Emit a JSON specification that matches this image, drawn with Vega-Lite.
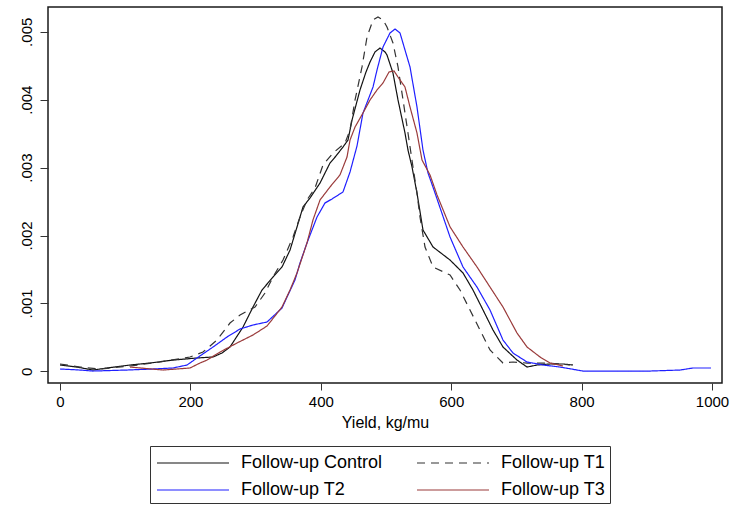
{
  "$schema": "https://vega.github.io/schema/vega-lite/v6.json",
  "width": 674,
  "height": 376,
  "autosize": {"type": "none"},
  "padding": {"left": 48, "top": 7, "right": 13, "bottom": 123},
  "background": "white",
  "config": {
    "view": {"stroke": "#1a1a1a", "strokeWidth": 1.5},
    "font": "Liberation Sans",
    "axis": {"grid": false, "domain": false, "tickColor": "#333", "labelColor": "#000", "labelFont": "Liberation Sans", "titleFont": "Liberation Sans", "titleFontWeight": "normal", "titleColor": "#000"},
    "legend": {"labelFont": "Liberation Sans", "labelColor": "#000"}
  },
  "data": {"values": [
    {"s": "Follow-up Control", "x": 0, "y": 0.000093},
    {"s": "Follow-up Control", "x": 26, "y": 0.000063},
    {"s": "Follow-up Control", "x": 50.6, "y": 0.000019},
    {"s": "Follow-up Control", "x": 72.1, "y": 0.000049},
    {"s": "Follow-up Control", "x": 107.4, "y": 0.000093},
    {"s": "Follow-up Control", "x": 138, "y": 0.000122},
    {"s": "Follow-up Control", "x": 173.3, "y": 0.000166},
    {"s": "Follow-up Control", "x": 210.1, "y": 0.000196},
    {"s": "Follow-up Control", "x": 234.7, "y": 0.000211},
    {"s": "Follow-up Control", "x": 248.5, "y": 0.00027},
    {"s": "Follow-up Control", "x": 260.7, "y": 0.000358},
    {"s": "Follow-up Control", "x": 280.7, "y": 0.000652},
    {"s": "Follow-up Control", "x": 296, "y": 0.000947},
    {"s": "Follow-up Control", "x": 309.8, "y": 0.001197},
    {"s": "Follow-up Control", "x": 326.7, "y": 0.001389},
    {"s": "Follow-up Control", "x": 340.5, "y": 0.001536},
    {"s": "Follow-up Control", "x": 352.8, "y": 0.001786},
    {"s": "Follow-up Control", "x": 363.5, "y": 0.002125},
    {"s": "Follow-up Control", "x": 372.7, "y": 0.00242},
    {"s": "Follow-up Control", "x": 383.4, "y": 0.002552},
    {"s": "Follow-up Control", "x": 398.8, "y": 0.002773},
    {"s": "Follow-up Control", "x": 414.1, "y": 0.003068},
    {"s": "Follow-up Control", "x": 423.3, "y": 0.003171},
    {"s": "Follow-up Control", "x": 434, "y": 0.003303},
    {"s": "Follow-up Control", "x": 441.7, "y": 0.003406},
    {"s": "Follow-up Control", "x": 447.9, "y": 0.003701},
    {"s": "Follow-up Control", "x": 460.1, "y": 0.004143},
    {"s": "Follow-up Control", "x": 469.3, "y": 0.004408},
    {"s": "Follow-up Control", "x": 475.5, "y": 0.004555},
    {"s": "Follow-up Control", "x": 483.1, "y": 0.004703},
    {"s": "Follow-up Control", "x": 490.8, "y": 0.004761},
    {"s": "Follow-up Control", "x": 498.5, "y": 0.004703},
    {"s": "Follow-up Control", "x": 501.5, "y": 0.004658},
    {"s": "Follow-up Control", "x": 510.7, "y": 0.004393},
    {"s": "Follow-up Control", "x": 518.4, "y": 0.003996},
    {"s": "Follow-up Control", "x": 529.1, "y": 0.00351},
    {"s": "Follow-up Control", "x": 533.7, "y": 0.003259},
    {"s": "Follow-up Control", "x": 539.9, "y": 0.003009},
    {"s": "Follow-up Control", "x": 547.5, "y": 0.002626},
    {"s": "Follow-up Control", "x": 556.7, "y": 0.002081},
    {"s": "Follow-up Control", "x": 572.1, "y": 0.001831},
    {"s": "Follow-up Control", "x": 598.2, "y": 0.001639},
    {"s": "Follow-up Control", "x": 618.1, "y": 0.001448},
    {"s": "Follow-up Control", "x": 633.4, "y": 0.001197},
    {"s": "Follow-up Control", "x": 648.8, "y": 0.000903},
    {"s": "Follow-up Control", "x": 664.1, "y": 0.000608},
    {"s": "Follow-up Control", "x": 679.4, "y": 0.000358},
    {"s": "Follow-up Control", "x": 700.9, "y": 0.000166},
    {"s": "Follow-up Control", "x": 716.3, "y": 0.000063},
    {"s": "Follow-up Control", "x": 731.6, "y": 0.000093},
    {"s": "Follow-up Control", "x": 751.5, "y": 0.000108},
    {"s": "Follow-up Control", "x": 771.5, "y": 0.000108},
    {"s": "Follow-up Control", "x": 786.8, "y": 0.000093},

    {"s": "Follow-up T1", "x": 0, "y": 0.000108},
    {"s": "Follow-up T1", "x": 30.7, "y": 0.000063},
    {"s": "Follow-up T1", "x": 61.3, "y": 0.000034},
    {"s": "Follow-up T1", "x": 107.4, "y": 0.000078},
    {"s": "Follow-up T1", "x": 153.4, "y": 0.000137},
    {"s": "Follow-up T1", "x": 199.4, "y": 0.000211},
    {"s": "Follow-up T1", "x": 219.3, "y": 0.000284},
    {"s": "Follow-up T1", "x": 240.8, "y": 0.000461},
    {"s": "Follow-up T1", "x": 260.7, "y": 0.000711},
    {"s": "Follow-up T1", "x": 276.1, "y": 0.000829},
    {"s": "Follow-up T1", "x": 299.1, "y": 0.000947},
    {"s": "Follow-up T1", "x": 314.4, "y": 0.001153},
    {"s": "Follow-up T1", "x": 326.7, "y": 0.001389},
    {"s": "Follow-up T1", "x": 342, "y": 0.001639},
    {"s": "Follow-up T1", "x": 357.4, "y": 0.001978},
    {"s": "Follow-up T1", "x": 368.1, "y": 0.002272},
    {"s": "Follow-up T1", "x": 378.8, "y": 0.002523},
    {"s": "Follow-up T1", "x": 391.1, "y": 0.0027},
    {"s": "Follow-up T1", "x": 403.4, "y": 0.00304},
    {"s": "Follow-up T1", "x": 418.7, "y": 0.003215},
    {"s": "Follow-up T1", "x": 437.1, "y": 0.003362},
    {"s": "Follow-up T1", "x": 444.8, "y": 0.003554},
    {"s": "Follow-up T1", "x": 452.5, "y": 0.003996},
    {"s": "Follow-up T1", "x": 463.2, "y": 0.004482},
    {"s": "Follow-up T1", "x": 470.9, "y": 0.004924},
    {"s": "Follow-up T1", "x": 480.1, "y": 0.005174},
    {"s": "Follow-up T1", "x": 487.7, "y": 0.005218},
    {"s": "Follow-up T1", "x": 495.4, "y": 0.005174},
    {"s": "Follow-up T1", "x": 501.5, "y": 0.005071},
    {"s": "Follow-up T1", "x": 510.7, "y": 0.004835},
    {"s": "Follow-up T1", "x": 518.4, "y": 0.004482},
    {"s": "Follow-up T1", "x": 526.1, "y": 0.003996},
    {"s": "Follow-up T1", "x": 533.7, "y": 0.00351},
    {"s": "Follow-up T1", "x": 541.4, "y": 0.003009},
    {"s": "Follow-up T1", "x": 547.5, "y": 0.002626},
    {"s": "Follow-up T1", "x": 552.1, "y": 0.002272},
    {"s": "Follow-up T1", "x": 559.8, "y": 0.001831},
    {"s": "Follow-up T1", "x": 572.1, "y": 0.001536},
    {"s": "Follow-up T1", "x": 598.2, "y": 0.001418},
    {"s": "Follow-up T1", "x": 613.5, "y": 0.001197},
    {"s": "Follow-up T1", "x": 628.8, "y": 0.000903},
    {"s": "Follow-up T1", "x": 644.2, "y": 0.000608},
    {"s": "Follow-up T1", "x": 659.5, "y": 0.000314},
    {"s": "Follow-up T1", "x": 679.4, "y": 0.000122},
    {"s": "Follow-up T1", "x": 694.8, "y": 0.000137},
    {"s": "Follow-up T1", "x": 716.3, "y": 0.000122},
    {"s": "Follow-up T1", "x": 741.1, "y": 0.000122},
    {"s": "Follow-up T1", "x": 766.9, "y": 0.000108},
    {"s": "Follow-up T1", "x": 782.2, "y": 0.000093},

    {"s": "Follow-up T2", "x": 0, "y": 0.000034},
    {"s": "Follow-up T2", "x": 30.7, "y": 0.000019},
    {"s": "Follow-up T2", "x": 50.6, "y": 0.000004},
    {"s": "Follow-up T2", "x": 102.8, "y": 0.000019},
    {"s": "Follow-up T2", "x": 142.6, "y": 0.000034},
    {"s": "Follow-up T2", "x": 173.3, "y": 0.000049},
    {"s": "Follow-up T2", "x": 194.8, "y": 0.000093},
    {"s": "Follow-up T2", "x": 210.1, "y": 0.000196},
    {"s": "Follow-up T2", "x": 234.7, "y": 0.000358},
    {"s": "Follow-up T2", "x": 256.1, "y": 0.000505},
    {"s": "Follow-up T2", "x": 276.1, "y": 0.000623},
    {"s": "Follow-up T2", "x": 296, "y": 0.000682},
    {"s": "Follow-up T2", "x": 317.5, "y": 0.000726},
    {"s": "Follow-up T2", "x": 340.5, "y": 0.000932},
    {"s": "Follow-up T2", "x": 348.2, "y": 0.001094},
    {"s": "Follow-up T2", "x": 360.4, "y": 0.001345},
    {"s": "Follow-up T2", "x": 368.1, "y": 0.001595},
    {"s": "Follow-up T2", "x": 378.8, "y": 0.00189},
    {"s": "Follow-up T2", "x": 394.2, "y": 0.002273},
    {"s": "Follow-up T2", "x": 406.4, "y": 0.002479},
    {"s": "Follow-up T2", "x": 417.2, "y": 0.002538},
    {"s": "Follow-up T2", "x": 434, "y": 0.002641},
    {"s": "Follow-up T2", "x": 444.8, "y": 0.002935},
    {"s": "Follow-up T2", "x": 455.5, "y": 0.003318},
    {"s": "Follow-up T2", "x": 464.7, "y": 0.003804},
    {"s": "Follow-up T2", "x": 480.1, "y": 0.004187},
    {"s": "Follow-up T2", "x": 486.2, "y": 0.004437},
    {"s": "Follow-up T2", "x": 495.4, "y": 0.004776},
    {"s": "Follow-up T2", "x": 506.1, "y": 0.004982},
    {"s": "Follow-up T2", "x": 513.8, "y": 0.005041},
    {"s": "Follow-up T2", "x": 521.5, "y": 0.004982},
    {"s": "Follow-up T2", "x": 529.1, "y": 0.004732},
    {"s": "Follow-up T2", "x": 536.8, "y": 0.004482},
    {"s": "Follow-up T2", "x": 547.5, "y": 0.003893},
    {"s": "Follow-up T2", "x": 556.7, "y": 0.003259},
    {"s": "Follow-up T2", "x": 564.4, "y": 0.002921},
    {"s": "Follow-up T2", "x": 573.6, "y": 0.00267},
    {"s": "Follow-up T2", "x": 598.2, "y": 0.001978},
    {"s": "Follow-up T2", "x": 618.1, "y": 0.001536},
    {"s": "Follow-up T2", "x": 639.6, "y": 0.00124},
    {"s": "Follow-up T2", "x": 659.5, "y": 0.000903},
    {"s": "Follow-up T2", "x": 679.4, "y": 0.000461},
    {"s": "Follow-up T2", "x": 694.8, "y": 0.000269},
    {"s": "Follow-up T2", "x": 716.3, "y": 0.000137},
    {"s": "Follow-up T2", "x": 741.1, "y": 0.000093},
    {"s": "Follow-up T2", "x": 766.9, "y": 0.000063},
    {"s": "Follow-up T2", "x": 802.1, "y": 0.000004},
    {"s": "Follow-up T2", "x": 854.3, "y": 0.000004},
    {"s": "Follow-up T2", "x": 904.9, "y": 0.000004},
    {"s": "Follow-up T2", "x": 950.9, "y": 0.000019},
    {"s": "Follow-up T2", "x": 970.9, "y": 0.000049},
    {"s": "Follow-up T2", "x": 998.5, "y": 0.000049},

    {"s": "Follow-up T3", "x": 107.4, "y": 0.000063},
    {"s": "Follow-up T3", "x": 158, "y": 0.000019},
    {"s": "Follow-up T3", "x": 199.4, "y": 0.000049},
    {"s": "Follow-up T3", "x": 214.7, "y": 0.000122},
    {"s": "Follow-up T3", "x": 225.5, "y": 0.000166},
    {"s": "Follow-up T3", "x": 245.4, "y": 0.000284},
    {"s": "Follow-up T3", "x": 271.5, "y": 0.000417},
    {"s": "Follow-up T3", "x": 296, "y": 0.000535},
    {"s": "Follow-up T3", "x": 317.5, "y": 0.000667},
    {"s": "Follow-up T3", "x": 340.5, "y": 0.000947},
    {"s": "Follow-up T3", "x": 352.8, "y": 0.001197},
    {"s": "Follow-up T3", "x": 363.5, "y": 0.001448},
    {"s": "Follow-up T3", "x": 378.8, "y": 0.00189},
    {"s": "Follow-up T3", "x": 388, "y": 0.002229},
    {"s": "Follow-up T3", "x": 398.8, "y": 0.002523},
    {"s": "Follow-up T3", "x": 414.1, "y": 0.002715},
    {"s": "Follow-up T3", "x": 429.4, "y": 0.002892},
    {"s": "Follow-up T3", "x": 440.2, "y": 0.003156},
    {"s": "Follow-up T3", "x": 444.8, "y": 0.003406},
    {"s": "Follow-up T3", "x": 452.5, "y": 0.003598},
    {"s": "Follow-up T3", "x": 464.7, "y": 0.003804},
    {"s": "Follow-up T3", "x": 475.5, "y": 0.003996},
    {"s": "Follow-up T3", "x": 486.2, "y": 0.004143},
    {"s": "Follow-up T3", "x": 495.4, "y": 0.004246},
    {"s": "Follow-up T3", "x": 504.6, "y": 0.004408},
    {"s": "Follow-up T3", "x": 512.3, "y": 0.004423},
    {"s": "Follow-up T3", "x": 518.4, "y": 0.004334},
    {"s": "Follow-up T3", "x": 529.1, "y": 0.004187},
    {"s": "Follow-up T3", "x": 536.8, "y": 0.003893},
    {"s": "Follow-up T3", "x": 547.5, "y": 0.00351},
    {"s": "Follow-up T3", "x": 555.2, "y": 0.003112},
    {"s": "Follow-up T3", "x": 567.5, "y": 0.002892},
    {"s": "Follow-up T3", "x": 578.2, "y": 0.002598},
    {"s": "Follow-up T3", "x": 598.2, "y": 0.002127},
    {"s": "Follow-up T3", "x": 618.1, "y": 0.001831},
    {"s": "Follow-up T3", "x": 639.6, "y": 0.001536},
    {"s": "Follow-up T3", "x": 659.5, "y": 0.001241},
    {"s": "Follow-up T3", "x": 679.4, "y": 0.000947},
    {"s": "Follow-up T3", "x": 700.9, "y": 0.000564},
    {"s": "Follow-up T3", "x": 716.3, "y": 0.000358},
    {"s": "Follow-up T3", "x": 736.2, "y": 0.000211},
    {"s": "Follow-up T3", "x": 751.5, "y": 0.000122},
    {"s": "Follow-up T3", "x": 771.5, "y": 0.000078}
  ]},
  "mark": {"type": "line", "strokeWidth": 1.2},
  "encoding": {
    "x": {
      "field": "x", "type": "quantitative",
      "scale": {"domain": [-18.4, 1015.3], "nice": false, "zero": false},
      "axis": {"values": [0, 200, 400, 600, 800, 1000], "format": "d", "tickSize": 7, "labelFontSize": 15, "labelPadding": 4, "title": "Yield, kg/mu", "titleFontSize": 16, "titlePadding": 5}
    },
    "y": {
      "field": "y", "type": "quantitative",
      "scale": {"domain": [-0.000172, 0.005365], "nice": false, "zero": false},
      "axis": {"values": [0, 0.001, 0.002, 0.003, 0.004, 0.005], "labelExpr": "datum.value == 0 ? '0' : replace(format(datum.value, '.3f'), '0.', '.')", "labelAngle": 270, "labelAlign": "center", "labelBaseline": "bottom", "tickSize": 8, "labelPadding": 6, "labelFontSize": 15, "title": null}
    },
    "color": {
      "field": "s", "type": "nominal",
      "scale": {"domain": ["Follow-up Control", "Follow-up T1", "Follow-up T2", "Follow-up T3"], "range": ["#111111", "#333333", "#1f1fff", "#9a3b3b"]},
      "legend": {"title": null, "orient": "none", "legendX": 102, "legendY": 439, "direction": "horizontal", "columns": 2, "symbolType": "M-1,0H5", "symbolSize": 576, "symbolOffset": 2, "symbolStrokeWidth": 1.2, "labelFontSize": 18, "labelOffset": 59, "columnPadding": 31, "rowPadding": 5, "padding": 4, "strokeColor": "#333333", "fillColor": "white", "labelLimit": 300, "labelExpr": "datum.label == 'Follow-up T1' || datum.label == 'Follow-up T3' ? datum.label + '    ' : datum.label"}
    },
    "strokeDash": {
      "field": "s", "type": "nominal",
      "scale": {"domain": ["Follow-up Control", "Follow-up T1", "Follow-up T2", "Follow-up T3"], "range": [[1, 0], [8, 6], [1, 0], [1, 0]]},
      "legend": {"title": null, "orient": "none", "legendX": 102, "legendY": 439, "direction": "horizontal", "columns": 2, "symbolType": "M-1,0H5", "symbolSize": 576, "symbolOffset": 2, "symbolStrokeWidth": 1.2, "labelFontSize": 18, "labelOffset": 59, "columnPadding": 31, "rowPadding": 5, "padding": 4, "strokeColor": "#333333", "fillColor": "white", "labelLimit": 300, "labelExpr": "datum.label == 'Follow-up T1' || datum.label == 'Follow-up T3' ? datum.label + '    ' : datum.label"}
    }
  }
}
